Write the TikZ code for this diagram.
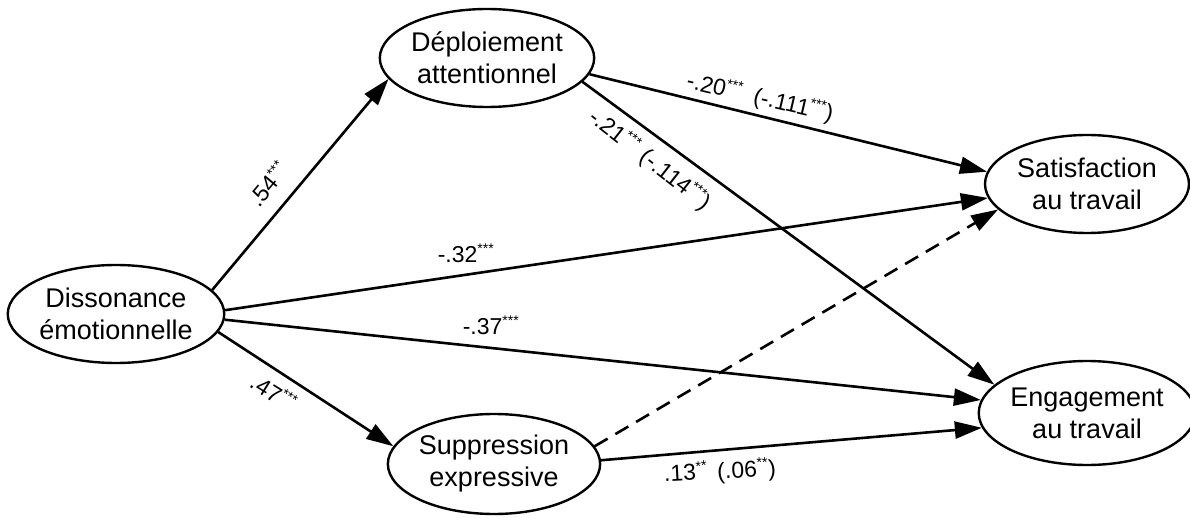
\documentclass[tikz,border=0pt]{standalone}
\usepackage{fontspec}
\setmainfont{Liberation Sans}
\usetikzlibrary{arrows.meta,shapes.geometric}
\newcommand\sigstars[1]{\textsuperscript{\fontsize{14}{14}\selectfont #1}}
\tikzset{
  var/.style={draw, line width=2.4pt, ellipse, inner sep=0pt, align=center,
    font=\fontsize{27}{32}\selectfont},
  arrowpath/.style={line width=2.6pt, -{Triangle[length=27pt,width=17pt]}},
  dashpath/.style={arrowpath, dash pattern=on 15pt off 9pt},
  coef/.style={inner sep=0pt, font=\fontsize{23}{26}\selectfont}
}
\begin{document}
\begin{tikzpicture}[x=1pt,y=-1pt]
\useasboundingbox[fill=white] (0,0) rectangle (1190,518);
\node[var, minimum width=210pt, minimum height=98pt] (dep) at (487,58) {Déploiement\\attentionnel};
\node[var, minimum width=212pt, minimum height=98pt] (dis) at (116,314) {Dissonance\\émotionnelle};
\node[var, minimum width=188pt, minimum height=100pt] (sup) at (494,464) {Suppression\\expressive};
\node[var, minimum width=204pt, minimum height=98pt] (sat) at (1087,184) {Satisfaction\\au travail};
\node[var, minimum width=204pt, minimum height=104pt] (eng) at (1087,413) {Engagement\\au travail};

\draw[arrowpath] (dis.14) -- (dep.192);
\draw[arrowpath] (dis.2) -- (sat.188);
\draw[arrowpath] (dis.-3) -- (eng.173);
\draw[arrowpath] (dis.-10) -- (sup.170);
\draw[arrowpath] (dep.-9) -- (sat.173);
\draw[arrowpath] (dep.-14) -- (eng.163);
\draw[arrowpath] (sup.2) -- (eng.188);
\draw[dashpath] (sup.10) -- (sat.196);

\node[coef, rotate=50] (l1) at (268,184) {.54\sigstars{***}};
\node[coef] (l2) at (466,253) {-.32\sigstars{***}};
\node[coef] (l3) at (491,325) {-.37\sigstars{***}};
\node[coef, rotate=-32] (l4) at (274,392) {.47\sigstars{***}};
\node[coef, rotate=-13] (l5) at (760,98) {-.20\sigstars{***}\hspace{12pt}(-.111\sigstars{***})};
\node[coef, rotate=-38] (l6) at (650,160) {-.21\sigstars{***}\hspace{8pt}(-.114\sigstars{***})};
\node[coef, rotate=3] (l7) at (720,472) {.13\sigstars{**}\hspace{10pt}(.06\sigstars{**})};
\end{tikzpicture}
\end{document}
